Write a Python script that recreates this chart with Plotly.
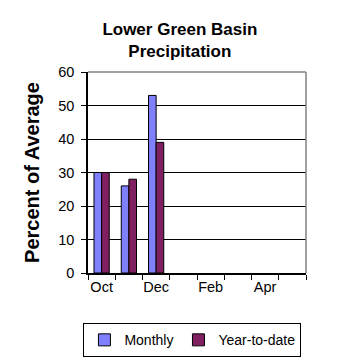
import plotly.graph_objects as go

months = ["Oct", "Nov", "Dec", "Jan", "Feb", "Mar", "Apr", "May"]
tick_labels = ["Oct", "", "Dec", "", "Feb", "", "Apr", ""]
monthly = [30, 26, 53, None, None, None, None, None]
year_to_date = [30, 28, 39, None, None, None, None, None]
y_ticks = [0, 10, 20, 30, 40, 50, 60]

FONT = "Liberation Sans, Arial, sans-serif"

fig = go.Figure()
fig.add_trace(go.Bar(x=months, y=monthly, name="Monthly",
                     marker=dict(color="#8080FF", line=dict(color="black", width=1))))
fig.add_trace(go.Bar(x=months, y=year_to_date, name="Year-to-date",
                     marker=dict(color="#802060", line=dict(color="black", width=1))))

# page body has an 8px default margin, so the figure is 350x350 and offset by 8px
fig.update_layout(
    width=350, height=350,
    margin=dict(l=80, r=52, t=64, b=85, autoexpand=False),
    paper_bgcolor="white", plot_bgcolor="white",
    font=dict(family=FONT, size=14, color="black"),
    barmode="group", bargap=0.44, bargroupgap=0,
    title=dict(text="<b>Lower Green Basin<br>Precipitation</b>", x=0.491, xanchor="center",
               y=0.924, yanchor="top", font=dict(size=17)),
    showlegend=True,
    legend=dict(orientation="h", x=0.479, xanchor="center", y=-0.25, yanchor="top",
                bordercolor="black", borderwidth=1, font=dict(size=14),
                itemwidth=30, tracegroupgap=0),
    xaxis=dict(type="category", categoryorder="array", categoryarray=months,
               tickmode="array", tickvals=months, ticktext=tick_labels, tickangle=0,
               tickson="boundaries", ticks="outside", ticklen=5, tickcolor="black",
               showline=True, linecolor="black", linewidth=1.5, showgrid=False,
               range=[-0.5, 7.5], tickfont=dict(size=14.5), automargin=False),
    yaxis=dict(range=[0, 60], tickvals=y_ticks, ticks="outside", ticklen=5,
               tickcolor="black", showline=True, linecolor="black", linewidth=1.5,
               showgrid=True, gridcolor="black", gridwidth=1, zeroline=False,
               automargin=False, ticklabelstandoff=4,
               title=dict(text="<b>Percent of Average</b>", font=dict(size=20), standoff=13),
               tickfont=dict(size=14.5)),
    shapes=[
        dict(type="line", xref="paper", yref="paper", x0=0, x1=1, y0=1, y1=1,
             line=dict(color="#808080", width=1.5)),
        dict(type="line", xref="paper", yref="paper", x0=1, x1=1, y0=0, y1=1,
             line=dict(color="#808080", width=1.5)),
    ],
)

fig.write_html("out.html")
